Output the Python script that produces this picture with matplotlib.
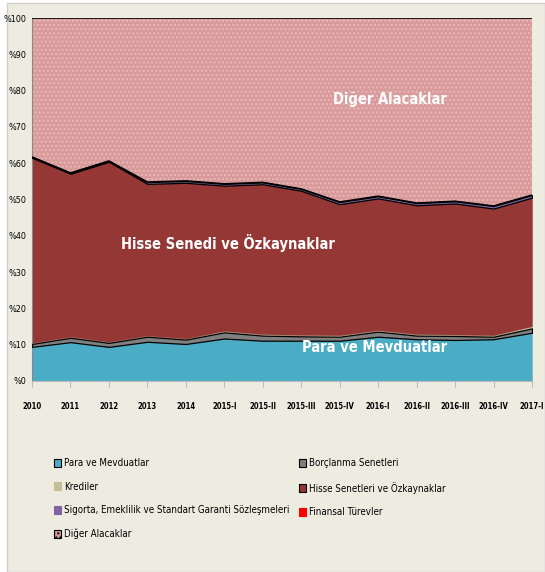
import numpy as np
import matplotlib.pyplot as plt
from matplotlib.patches import Rectangle, Patch

# periods on the x axis
periods = ["2010", "2011", "2012", "2013", "2014", "2015-I", "2015-II", "2015-III",
           "2015-IV", "2016-I", "2016-II", "2016-III", "2016-IV", "2017-I"]

# shares in percent (stacked bottom to top)
para = [9.4, 10.7, 9.4, 10.8, 10.2, 11.7, 11.1, 11.1, 11.1, 12.2, 11.5, 11.3, 11.5, 13.3]
borclanma = [0.8, 1.2, 1.1, 1.4, 1.2, 1.7, 1.4, 1.2, 1.1, 1.4, 1.0, 1.1, 0.7, 1.2]
krediler = [0.3, 0.3, 0.3, 0.3, 0.3, 0.4, 0.4, 0.4, 0.4, 0.4, 0.4, 0.4, 0.4, 0.6]
hisse = [51.0, 44.9, 49.6, 41.8, 42.9, 40.0, 41.3, 39.7, 36.1, 36.3, 35.5, 36.1, 34.9, 35.4]
sigorta = [0.2, 0.2, 0.2, 0.5, 0.5, 0.5, 0.5, 0.5, 0.6, 0.6, 0.6, 0.6, 0.7, 0.7]
finansal = [0.05] * 14
diger = [38.2, 42.6, 39.3, 45.1, 44.8, 45.6, 45.2, 47.0, 50.6, 49.0, 50.9, 50.4, 51.7, 48.7]

names = ["Para ve Mevduatlar", "Borçlanma Senetleri", "Krediler",
         "Hisse Senetleri ve Özkaynaklar",
         "Sigorta, Emeklilik ve Standart Garanti Sözleşmeleri",
         "Finansal Türevler", "Diğer Alacaklar"]
colors = ["#4BACC6", "#7F7F7F", "#C4BD97", "#953735", "#8064A2", "#FF0000", "#D99A9B"]

plt.rcParams['font.family'] = ["DejaVu Sans"]
plt.rcParams['font.stretch'] = "condensed"

fig = plt.figure(figsize=(5.45, 5.72), dpi=100)
fig.patch.set_facecolor("white")
fig.patches.append(Rectangle((7/545, 0.0), 1 - 7/545, 1 - 3/572, transform=fig.transFigure,
                             facecolor="#EEEBE1", edgecolor="#CFCFCF", lw=1, zorder=-5))

ax = fig.add_axes([32/545, 1 - 381/572, 500/545, 363/572])
ax.set_facecolor("white")
x = np.arange(len(periods))

series = [para, borclanma, krediler, hisse, sigorta, finansal]
base = np.zeros(len(periods))
for vals, col, i in zip(series, colors, range(6)):
    top = base + np.array(vals)
    ec = "black" if i in (1, 4) else col
    lw = 0.9 if i in (1, 4) else 0.3
    ax.fill_between(x, base, top, facecolor=col, edgecolor=ec, linewidth=lw, zorder=2 + (i in (1, 4)))
    base = top
# top line of hisse/sigorta block
ax.plot(x, base, color="black", lw=1.0, zorder=4)
ax.fill_between(x, base, base + np.array(diger), facecolor=colors[6], edgecolor="#E8BABA",
                linewidth=0, hatch="....", zorder=1)
ax.plot(x, base + np.array(diger), color="black", lw=1.2, zorder=4)

ax.set_xlim(0, len(periods) - 1)
ax.set_ylim(0, 100)
ax.set_xticks(x)
ax.set_xticklabels(periods, fontsize=5.5, fontweight="bold")
ax.set_yticks(np.arange(0, 101, 10))
ax.set_yticklabels(["%" + str(v) for v in range(0, 101, 10)], fontsize=6.5)
ax.tick_params(axis="x", length=4, color="#BBBBBB", pad=11)
ax.tick_params(axis="y", length=0, pad=4)
for s in ["top", "right"]:
    ax.spines[s].set_visible(False)
ax.spines["left"].set_color("#888888")
ax.spines["bottom"].set_color("#BBBBBB")

ax.text(9.3, 77.5, "Diğer Alacaklar", color="white", fontsize=10.5, fontweight="bold",
        ha="center", va="center")
ax.text(5.1, 38.0, "Hisse Senedi ve Özkaynaklar", color="white", fontsize=10.5, fontweight="bold",
        ha="center", va="center")
ax.text(8.9, 9.2, "Para ve Mevduatlar", color="white", fontsize=10.5, fontweight="bold",
        ha="center", va="center")

handles = [Patch(facecolor=c, edgecolor="black" if i in (0, 1, 3, 6) else c, lw=0.8)
           for i, c in enumerate(colors)]
handles[6] = Patch(facecolor=colors[6], edgecolor="black", hatch="....", lw=0.8)
col1 = [0, 2, 4, 6]
col2 = [1, 3, 5]
leg_kw = dict(frameon=False, fontsize=7, handlelength=0.7, handleheight=0.9, handletextpad=0.3,
              labelspacing=1.4, loc="upper left", borderaxespad=0, borderpad=0)
fig.legend([handles[i] for i in col1], [names[i] for i in col1],
           bbox_to_anchor=(54/545, 1 - 458/572), **leg_kw)
fig.legend([handles[i] for i in col2], [names[i] for i in col2],
           bbox_to_anchor=(299/545, 1 - 458/572), **leg_kw)

fig.savefig("out.png", dpi=100)
